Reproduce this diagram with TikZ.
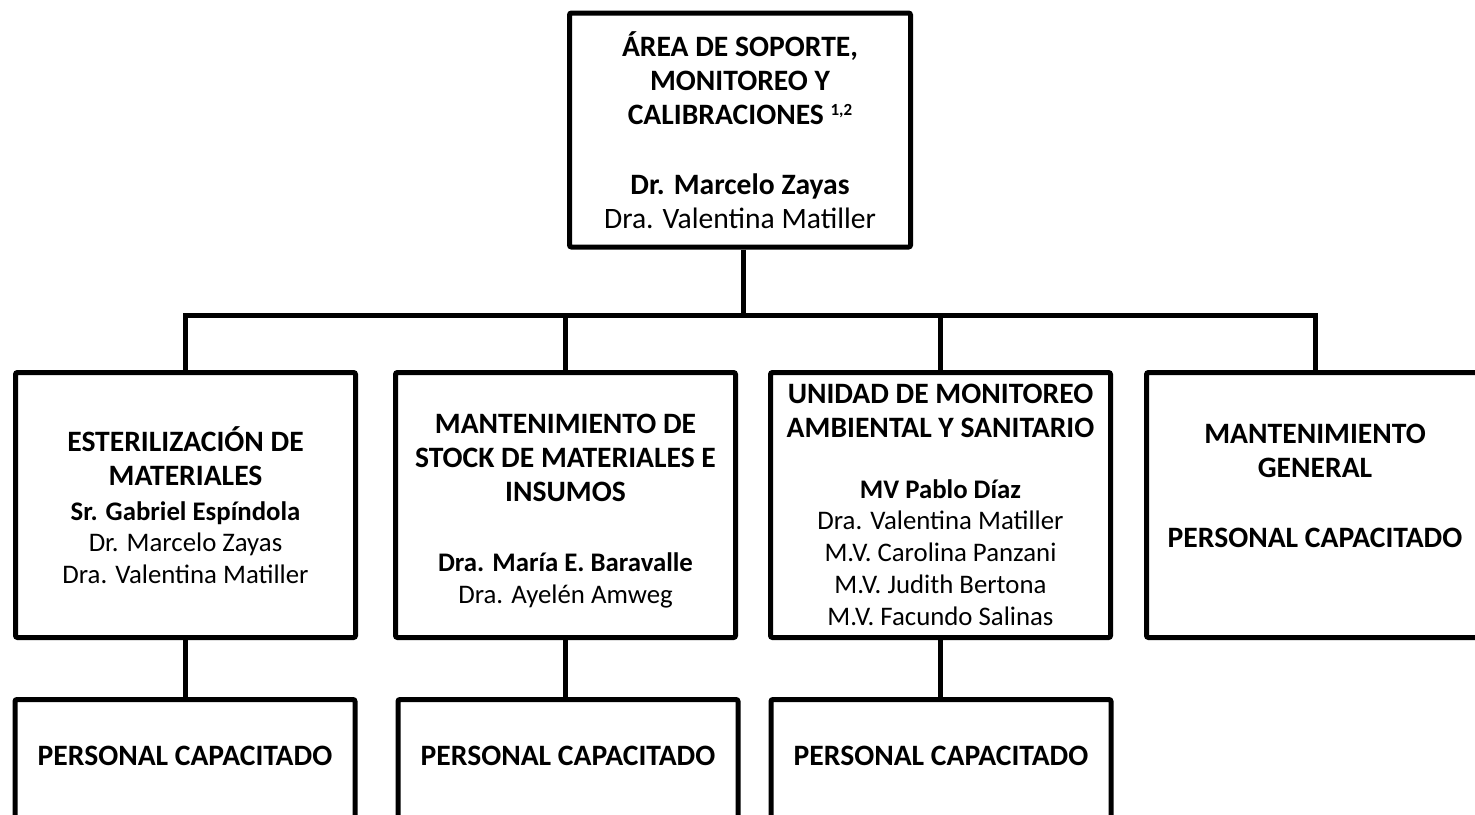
\documentclass[tikz,border=0pt]{standalone}
\usepackage{fontspec}
\setmainfont{Carlito}
\usetikzlibrary{positioning}
\newcommand{\ttl}{\fontsize{14.8}{17}\selectfont\bfseries}
\newcommand{\nmb}{\fontsize{13.4}{16}\selectfont\bfseries}
\newcommand{\nm}{\fontsize{13.4}{16}\selectfont\mdseries}
\newcommand{\refmark}[1]{\raisebox{4.5pt}{\fontsize{8.5}{10}\selectfont #1}}
\tikzset{
  orgbox/.style={rectangle,draw=black,line width=2.5pt,rounded corners=1pt,fill=white,
    minimum width=170pt,minimum height=132.5pt,inner sep=0pt,align=center,font=\ttl},
  stafftext/.style={font=\ttl,inner sep=0pt},
  link/.style={draw=black,line width=2.5pt}
}

\begin{document}
\begin{tikzpicture}[x=0.5pt,y=-0.5pt]
  \useasboundingbox (0,0) rectangle (1475,814);
  \clip (0,0) rectangle (1475,814);

  \node[orgbox,minimum width=170.5pt,minimum height=117pt] (area) at (740,130)
    {ÁREA DE SOPORTE,\\MONITOREO Y\\CALIBRACIONES \refmark{1,2}\\[18pt]Dr. Marcelo Zayas\\{\mdseries Dra. Valentina Matiller}};

  \node[orgbox] (ester) at (185.5,505)
    {ESTERILIZACIÓN DE\\MATERIALES\\[0.5pt]{\nmb Sr. Gabriel Espíndola}\\[-1.5pt]{\nm Dr. Marcelo Zayas}\\[-1pt]{\nm Dra. Valentina Matiller}};
  \node[orgbox] (stock) at (565.5,505)
    {\rule{0pt}{16pt}MANTENIMIENTO DE\\STOCK DE MATERIALES E\\INSUMOS\\[18pt]{\nmb Dra. María E. Baravalle}\\[-1pt]{\nm Dra. Ayelén Amweg}};
  \node[orgbox] (monit) at (940.5,505)
    {UNIDAD DE MONITOREO\\AMBIENTAL Y SANITARIO\\[13.5pt]{\nmb MV Pablo Díaz}\\[-1.5pt]{\nm Dra. Valentina Matiller}\\[-1pt]{\nm M.V. Carolina Panzani}\\[-1pt]{\nm M.V. Judith Bertona}\\[-1pt]{\nm M.V. Facundo Salinas}};
  \node[orgbox,minimum width=168.5pt] (gral) at (1315,505)
    {MANTENIMIENTO\\GENERAL\\[18pt]PERSONAL CAPACITADO\\[2pt]\mbox{}};

  \node[orgbox,minimum height=70.5pt] (pers1) at (185,770) {};
  \node[orgbox,minimum height=70.5pt] (pers2) at (568,770) {};
  \node[orgbox,minimum height=70.5pt] (pers3) at (941,770) {};
  \node[stafftext] (pers1txt) at (185,756) {PERSONAL CAPACITADO};
  \node[stafftext] (pers2txt) at (568,756) {PERSONAL CAPACITADO};
  \node[stafftext] (pers3txt) at (941,756) {PERSONAL CAPACITADO};

  \coordinate (hub) at (743,315);
  \draw[link] (area.south -| hub) -- (hub);
  \draw[link] (ester.north) -- (ester.north |- hub) -- (gral.north |- hub) -- (gral.north);
  \draw[link] (stock.north) -- (stock.north |- hub);
  \draw[link] (monit.north) -- (monit.north |- hub);
  \draw[link] (ester.south) -- (ester.south |- pers1.north);
  \draw[link] (stock.south) -- (stock.south |- pers2.north);
  \draw[link] (monit.south) -- (monit.south |- pers3.north);
\end{tikzpicture}
\end{document}
